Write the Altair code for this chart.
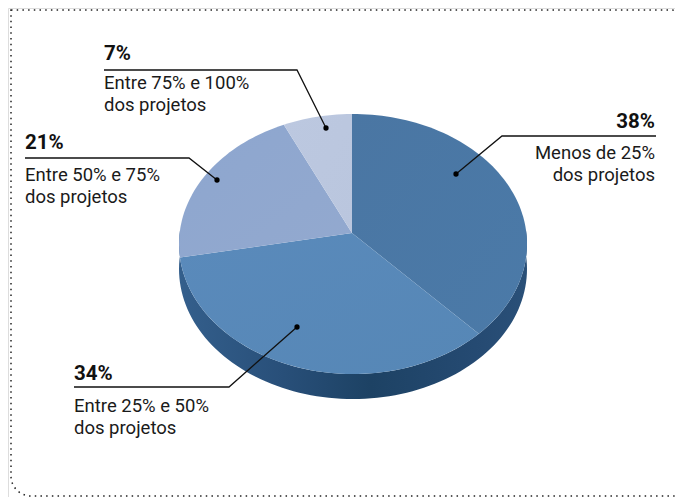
import math
import altair as alt
import pandas as pd

shares = [38, 34, 21, 7]
percent_labels = ["38%", "34%", "21%", "7%"]
line_one = ["Menos de 25%", "Entre 25% e 50%", "Entre 50% e 75%", "Entre 75% e 100%"]
line_two = ["dos projetos"] * 4
text_x = [655, 74, 25, 104]
text_align = ["right", "left", "left", "left"]
percent_y = [128, 380, 149, 60]
first_y = [159, 412, 181, 89]
second_y = [181, 434, 203, 111]
leader_x = [[656, 502, 456], [74, 229, 297], [25, 189, 217], [104, 297, 326]]
leader_y = [[136, 136, 174], [387, 387, 327], [158, 158, 180], [70, 70, 128]]
face_stops = [
    ["#4a76a3", "#4b7aa8"],
    ["#5a8abb", "#5687b6"],
    ["#8da6cf", "#93a9cf"],
    ["#bcc8e0", "#bac6de"],
]

OX, OY = 8, 8
AX, AY = 352 - OX, 233 - OY
CX, CY = 353 - OX, 244 - OY
RX, RY = 174, 130
DEPTH = 25


def rim(t):
    dx, dy = RX * math.sin(t), -RY * math.cos(t)
    ox, oy = AX - CX, AY - CY
    a = (dx / RX) ** 2 + (dy / RY) ** 2
    b = 2 * (ox * dx / RX**2 + oy * dy / RY**2)
    c = (ox / RX) ** 2 + (oy / RY) ** 2 - 1
    s = (-b + math.sqrt(b * b - 4 * a * c)) / (2 * a)
    return [AX + s * dx, AY + s * dy]


def feature(ring):
    return {"type": "Feature", "properties": {},
            "geometry": {"type": "Polygon", "coordinates": [ring + [ring[0]]]}}


PROJ = dict(type="identity", scale=1, translate=[0, 0])
layers = []

frame = pd.DataFrame({"x": [11 - OX], "x2": [695 - OX], "y": [10 - OY], "y2": [496 - OY]})
layers.append(
    alt.Chart(frame).mark_rect(
        fillOpacity=0, stroke="#222222", strokeWidth=1.5, strokeDash=[1.5, 4.2],
        cornerRadiusTopRight=24, cornerRadiusBottomLeft=20,
    ).encode(
        x=alt.X("x:Q", scale=None), x2="x2:Q",
        y=alt.Y("y:Q", scale=None), y2="y2:Q",
    )
)

angles = [math.radians(d) for d in range(-6, 187, 2)]
top = [[CX + RX * math.cos(a), CY + RY * math.sin(a)] for a in angles]
bottom = [[x, y + DEPTH] for x, y in reversed(top)]
side_fill = alt.LinearGradient(
    gradient="linear", x1=0, y1=0, x2=1, y2=0,
    stops=[
        alt.GradientStop(offset=0, color="#345f8c"),
        alt.GradientStop(offset=0.3, color="#284f79"),
        alt.GradientStop(offset=0.55, color="#1d4264"),
        alt.GradientStop(offset=0.85, color="#254a72"),
        alt.GradientStop(offset=1, color="#2a5078"),
    ],
)
layers.append(
    alt.Chart(alt.Data(values=[feature(top + bottom)])).mark_geoshape(
        fill=side_fill, strokeWidth=0
    ).project(**PROJ)
)

start = 0.0
total = sum(shares)
for value, stops in zip(shares, face_stops):
    end = start + value / total
    n = max(4, int(value * 2))
    ring = [[AX, AY]] + [
        rim(2 * math.pi * (start + (end - start) * i / n)) for i in range(n + 1)
    ]
    fill = alt.LinearGradient(
        gradient="linear", x1=0, y1=0, x2=1, y2=1,
        stops=[alt.GradientStop(offset=0, color=stops[0]),
               alt.GradientStop(offset=1, color=stops[1])],
    )
    layers.append(
        alt.Chart(alt.Data(values=[feature(ring)])).mark_geoshape(
            fill=fill, strokeWidth=0
        ).project(**PROJ)
    )
    start = end

rows, dots, texts = [], [], []
for i in range(4):
    for k in range(3):
        rows.append({"leader": i, "k": k, "x": leader_x[i][k] - OX, "y": leader_y[i][k] - OY})
    dots.append({"x": leader_x[i][2] - OX, "y": leader_y[i][2] - OY})
    texts.append({"x": text_x[i] - OX, "y": first_y[i] - OY, "t": line_one[i], "a": text_align[i]})
    texts.append({"x": text_x[i] - OX, "y": second_y[i] - OY, "t": line_two[i], "a": text_align[i]})

layers.append(
    alt.Chart(pd.DataFrame(rows)).mark_line(color="#111111", strokeWidth=1.3).encode(
        x=alt.X("x:Q", scale=None), y=alt.Y("y:Q", scale=None),
        detail="leader:N", order="k:Q",
    )
)
layers.append(
    alt.Chart(pd.DataFrame(dots)).mark_circle(color="#000000", opacity=1, size=28).encode(
        x=alt.X("x:Q", scale=None), y=alt.Y("y:Q", scale=None),
    )
)
for align in ["left", "right"]:
    sub = [t for t in texts if t["a"] == align]
    layers.append(
        alt.Chart(pd.DataFrame(sub)).mark_text(
            align=align, baseline="alphabetic", font="Roboto", fontSize=18.5, color="#1a1a1a"
        ).encode(x=alt.X("x:Q", scale=None), y=alt.Y("y:Q", scale=None), text="t:N")
    )
    heads = pd.DataFrame({
        "x": [text_x[i] - OX for i in range(4) if text_align[i] == align],
        "y": [percent_y[i] - OY for i in range(4) if text_align[i] == align],
        "t": [percent_labels[i] for i in range(4) if text_align[i] == align],
    })
    layers.append(
        alt.Chart(heads).mark_text(
            align=align, baseline="alphabetic", font="Roboto", fontSize=20.5,
            fontWeight="bold", color="#111111"
        ).encode(x=alt.X("x:Q", scale=None), y=alt.Y("y:Q", scale=None), text="t:N")
    )

chart = alt.layer(*layers).properties(
    width=667, height=489, padding=0,
    autosize=alt.AutoSizeParams(type="none"),
).configure_view(stroke=None).configure(background="#ffffff")

chart.save("out.html", embed_options={"renderer": "svg", "actions": False})
